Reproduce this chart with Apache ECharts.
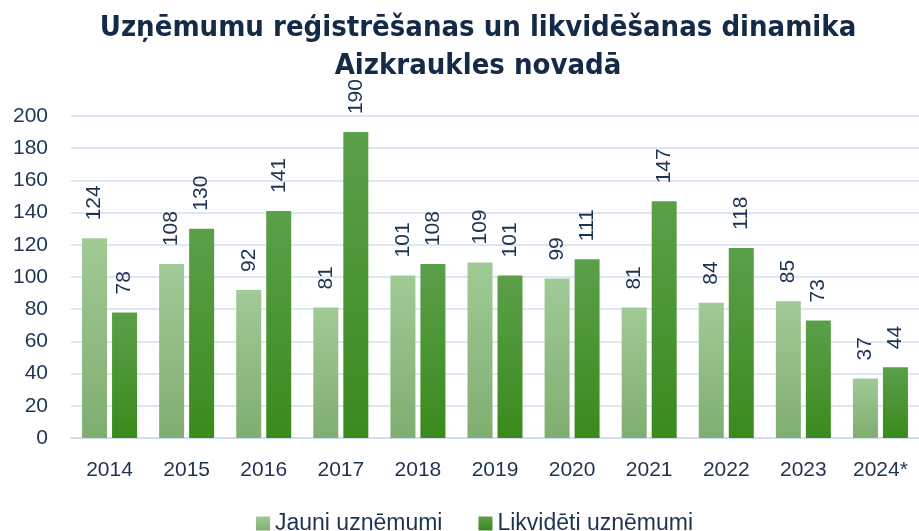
<!DOCTYPE html>
<html>
<head>
<meta charset="utf-8">
<script src="https://cdn.jsdelivr.net/npm/echarts@6/dist/echarts.min.js"></script>
<style>
  html, body { margin: 0; padding: 0; background: #fff; }
  #chart { width: 919px; height: 531px; }
</style>
</head>
<body>
<div id="chart"></div>
<script>
  // gadi un vērtības
  var years = ['2014', '2015', '2016', '2017', '2018', '2019', '2020', '2021', '2022', '2023', '2024*']
  var jauni = [124, 108, 92, 81, 101, 109, 99, 81, 84, 85, 37]
  var likvideti = [78, 130, 141, 190, 108, 101, 111, 147, 118, 73, 44]

  var textColor = '#1d3352'

  function grad(top, bottom) {
    return new echarts.graphic.LinearGradient(0, 0, 0, 1, [
      { offset: 0, color: top },
      { offset: 1, color: bottom }
    ])
  }

  var labelCfg = {
    show: true,
    position: 'top',
    rotate: 90,
    align: 'left',
    verticalAlign: 'middle',
    distance: 18,
    color: textColor,
    fontSize: 21,
    fontFamily: 'Liberation Sans'
  }

  var myChart = echarts.init(document.getElementById('chart'))
  myChart.setOption({
    animation: false,
    title: {
      text: 'Uzņēmumu reģistrēšanas un likvidēšanas dinamika\nAizkraukles novadā',
      left: 473,
      textAlign: 'center',
      top: 4,
      textStyle: {
        color: '#142a47',
        fontSize: 29,
        fontWeight: 'bold',
        fontFamily: 'DejaVu Sans Condensed',
        lineHeight: 38
      }
    },
    legend: {
      bottom: -9,
      left: 251,
      itemWidth: 14,
      itemHeight: 14,
      itemGap: 36,
      icon: 'rect',
      textStyle: { color: textColor, fontSize: 23, fontFamily: 'Liberation Sans' },
      data: ['Jauni uzņēmumi', 'Likvidēti uzņēmumi']
    },
    grid: { left: 71, right: 0, top: 116, bottom: 93, containLabel: false },
    xAxis: {
      type: 'category',
      data: years,
      axisLine: { show: true, lineStyle: { color: '#cfdff2', width: 2 } },
      axisTick: { show: false },
      axisLabel: { color: textColor, fontSize: 21, fontFamily: 'Liberation Sans', margin: 22 }
    },
    yAxis: {
      type: 'value',
      min: 0,
      max: 200,
      interval: 20,
      axisLine: { show: false },
      axisTick: { show: false },
      axisLabel: { color: textColor, fontSize: 21, fontFamily: 'Liberation Sans', margin: 23 },
      splitLine: { lineStyle: { color: '#cfdff2', width: 1.5 } }
    },
    series: [
      {
        name: 'Jauni uzņēmumi',
        type: 'bar',
        data: jauni,
        barWidth: 25,
        barGap: '20%',
        itemStyle: { color: grad('#a0ca96', '#7fae70') },
        label: labelCfg
      },
      {
        name: 'Likvidēti uzņēmumi',
        type: 'bar',
        data: likvideti,
        barWidth: 25,
        itemStyle: { color: grad('#5c9f4a', '#3a8a1c') },
        label: labelCfg
      }
    ]
  })
</script>
</body>
</html>
